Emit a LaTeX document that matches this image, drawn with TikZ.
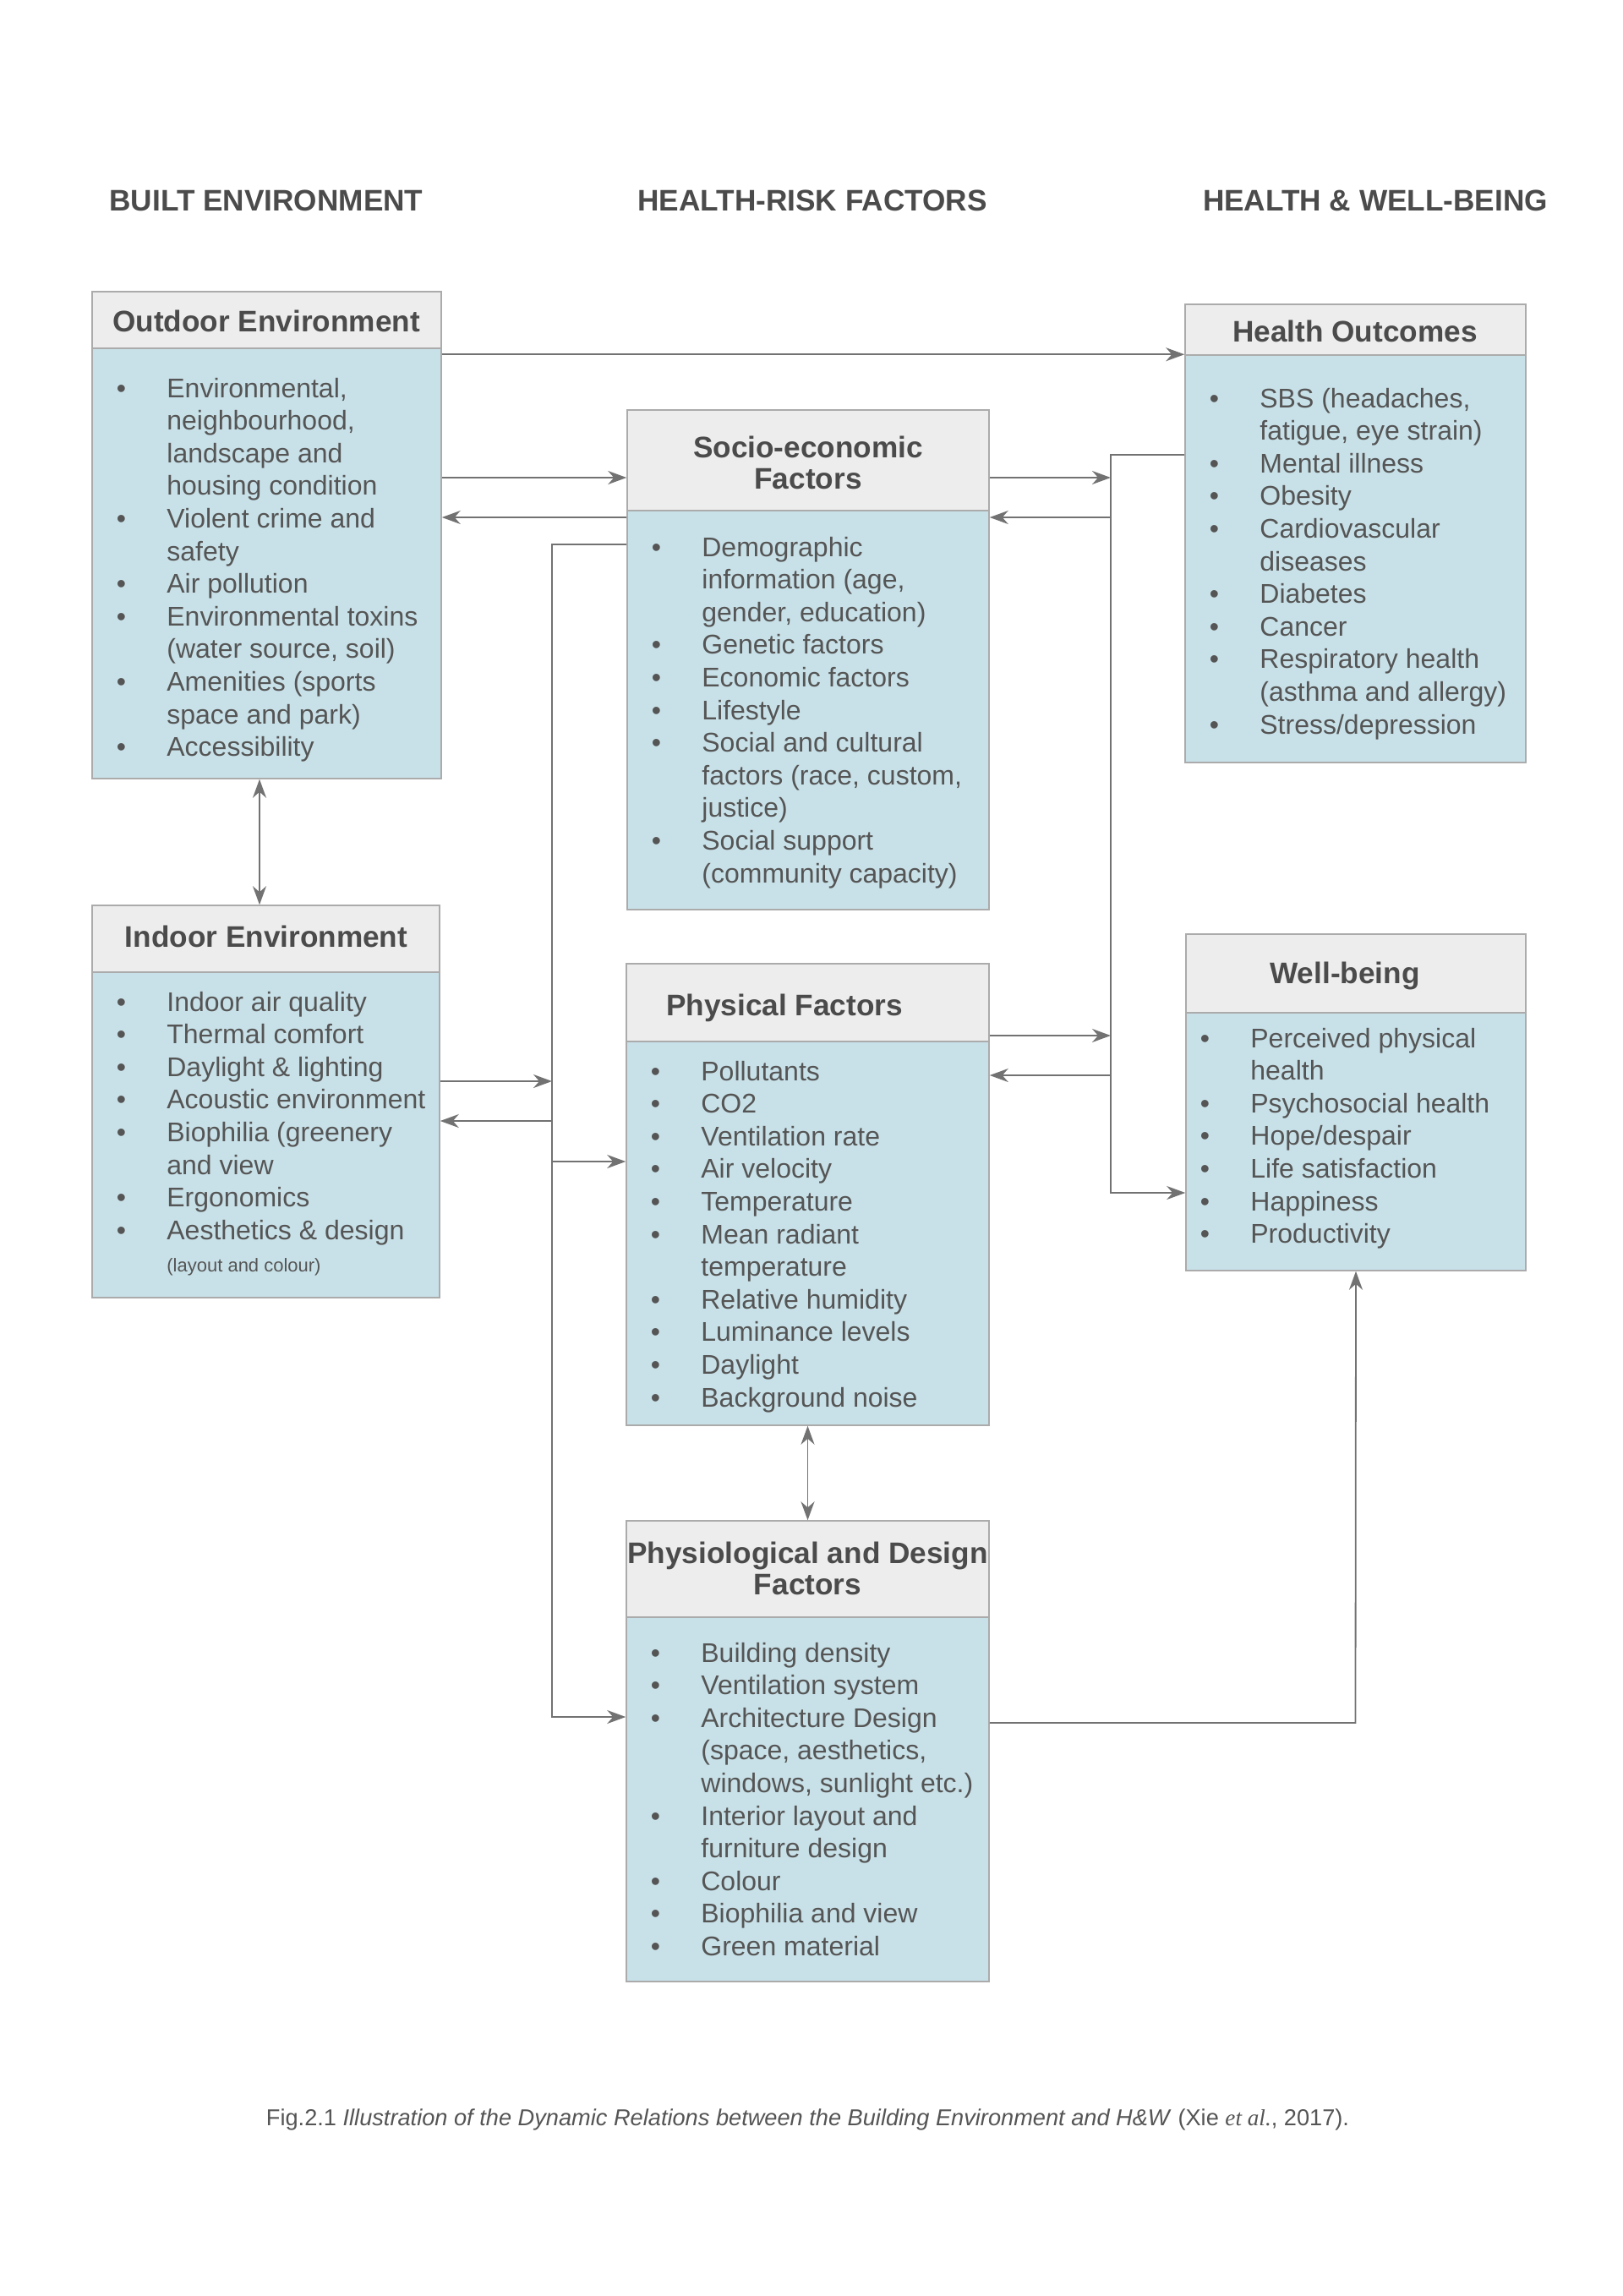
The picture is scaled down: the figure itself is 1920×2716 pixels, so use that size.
\documentclass[tikz,border=0pt]{standalone}
\usepackage{fontspec}
\setmainfont{Liberation Sans}
\newfontfamily\seriffam{Liberation Serif}
\usetikzlibrary{arrows.meta,fit}
\definecolor{hdrfill}{HTML}{EDEDED}
\definecolor{bodyfill}{HTML}{C8E1E8}
\definecolor{bordercol}{HTML}{ABABAB}
\definecolor{txtcol}{HTML}{555555}
\definecolor{ttlcol}{HTML}{4B4B4B}
\definecolor{arrowcol}{HTML}{727272}
\newcommand\titlefont{\fontsize{17.6pt}{18.7pt}\selectfont\bfseries}
\newcommand\bodyfont{\fontsize{16pt}{19.3pt}\selectfont}
\newcommand\bl{\par\noindent\llap{\textbullet\hspace{24.2pt}}}
\newcommand\blist[1]{\parbox[t]{260pt}{\bodyfont\raggedright #1}}
\newcommand\ubox[6]{%
  \node[bodyb, fit={(#2,#5)(#3,#6)}] (#1b) {};
  \node[hdr, fit={(#2,#4)(#3,#5)}] (#1h) {};
}
\begin{document}
\begin{tikzpicture}[x=0.5pt,y=-0.5pt,
  hdr/.style={draw=bordercol, fill=hdrfill, line width=0.75pt, inner sep=0pt},
  bodyb/.style={draw=bordercol, fill=bodyfill, line width=0.75pt, inner sep=0pt},
  ttl/.style={anchor=base, inner sep=0pt, text=ttlcol, font=\titlefont},
  btext/.style={anchor=base west, inner sep=0pt, text=txtcol, font=\bodyfont},
  captext/.style={anchor=base, inner sep=0pt, text=txtcol, font=\fontsize{13.6pt}{16pt}\selectfont},
  conn/.style={draw=arrowcol, line width=0.9pt},
  arr/.style={conn, -{Stealth[length=11pt,width=8pt,inset=3.5pt]}},
  dbl/.style={conn, {Stealth[length=11pt,width=8pt,inset=3.5pt]}-{Stealth[length=11pt,width=8pt,inset=3.5pt]}}]
\useasboundingbox (0,0) rectangle (1920,2716);
\fill[white] (0,0) rectangle (1920,2716);

% column headings
\node[ttl] (c1) at (315,249) {BUILT ENVIRONMENT};
\node[ttl] (c2) at (961,249) {HEALTH-RISK FACTORS};
\node[ttl] (c3) at (1627,249) {HEALTH \& WELL-BEING};

% boxes
\ubox{o}{109}{522}{345}{412}{921}
\ubox{s}{742}{1170}{485}{604}{1076}
\ubox{h}{1402}{1805}{360}{420}{902}
\ubox{i}{109}{520}{1071}{1150}{1535}
\ubox{p}{741}{1170}{1140}{1232}{1686}
\ubox{w}{1403}{1805}{1105}{1198}{1503}
\ubox{d}{741}{1170}{1799}{1913}{2344}

% titles
\node[ttl] (ot) at (315,392) {Outdoor Environment};
\node[ttl] (st) at (956,541) {\begin{tabular}[t]{@{}c@{}}Socio-economic\\Factors\end{tabular}};
\node[ttl] (ht) at (1603,404) {Health Outcomes};
\node[ttl] (it) at (315,1120) {Indoor Environment};
\node[ttl] (pt) at (928,1201) {Physical Factors};
\node[ttl] (wt) at (1591,1163) {Well-being};
\node[ttl] (dt) at (955.5,1849) {\begin{tabular}[t]{@{}c@{}}Physiological and Design\\Factors\end{tabular}};

% body texts
\node[btext] (ox) at (197,470) {\blist{\bl Environmental,\\neighbourhood,\\landscape and\\housing condition
  \bl Violent crime and\\safety
  \bl Air pollution
  \bl Environmental toxins\\(water source, soil)
  \bl Amenities (sports\\space and park)
  \bl Accessibility}};
\node[btext] (sx) at (830,658) {\blist{\bl Demographic\\information (age,\\gender, education)
  \bl Genetic factors
  \bl Economic factors
  \bl Lifestyle
  \bl Social and cultural\\factors (race, custom,\\justice)
  \bl Social support\\(community capacity)}};
\node[btext] (hx) at (1490,482) {\blist{\bl SBS (headaches,\\fatigue, eye strain)
  \bl Mental illness
  \bl Obesity
  \bl Cardiovascular\\diseases
  \bl Diabetes
  \bl Cancer
  \bl Respiratory health\\(asthma and allergy)
  \bl Stress/depression}};
\node[btext] (ix) at (197,1196) {\blist{\bl Indoor air quality
  \bl Thermal comfort
  \bl Daylight \& lighting
  \bl Acoustic environment
  \bl Biophilia (greenery\\and view
  \bl Ergonomics
  \bl Aesthetics \& design\\{\fontsize{11pt}{19.3pt}\selectfont(layout and colour)}}};
\node[btext] (px) at (829,1278) {\blist{\bl Pollutants
  \bl CO2
  \bl Ventilation rate
  \bl Air velocity
  \bl Temperature
  \bl Mean radiant\\temperature
  \bl Relative humidity
  \bl Luminance levels
  \bl Daylight
  \bl Background noise}};
\node[btext] (wx) at (1479,1239) {\blist{\bl Perceived physical\\health
  \bl Psychosocial health
  \bl Hope/despair
  \bl Life satisfaction
  \bl Happiness
  \bl Productivity}};
\node[btext] (dx) at (829,1966) {\blist{\bl Building density
  \bl Ventilation system
  \bl Architecture Design\\(space, aesthetics,\\windows, sunlight etc.)
  \bl Interior layout and\\furniture design
  \bl Colour
  \bl Biophilia and view
  \bl Green material}};

% junction coordinates
\coordinate (lv1) at (653,644);
\coordinate (lv2) at (653,2031);
\coordinate (lvi1) at (653,1279);
\coordinate (lvi2) at (653,1326);
\coordinate (lvp) at (653,1374);
\coordinate (rv1) at (1314,538);
\coordinate (rv2) at (1314,1411);
\coordinate (rs1) at (1314,565);
\coordinate (rs2) at (1314,612);
\coordinate (rp1) at (1314,1225);
\coordinate (rp2) at (1314,1272);
\coordinate (dw) at (1603.5,2038);
\coordinate (ls1) at (0,565);
\coordinate (ls2) at (0,612);
\coordinate (od) at (307,0);

% connectors
\draw[arr] (ob.east |- hb.north west) -- (hb.north west);
\draw[arr] (ob.east |- ls1) -- (sh.west |- ls1);
\draw[arr] (sb.west |- ls2) -- (ob.east |- ls2);
\draw[arr] (sb.west |- lv1) -- (lv1) -- (lv2) -- (db.west |- lv2);
\draw[arr] (lvp) -- (pb.west |- lvp);
\draw[arr] (ib.east |- lvi1) -- (lvi1);
\draw[arr] (lvi2) -- (ib.east |- lvi2);
\draw[arr] (hb.west |- rv1) -- (rv1) -- (rv2) -- (wb.west |- rv2);
\draw[arr] (sh.east |- rs1) -- (rs1);
\draw[arr] (rs2) -- (sb.east |- rs2);
\draw[arr] (ph.east |- rp1) -- (rp1);
\draw[arr] (rp2) -- (pb.east |- rp2);
\draw[arr] (db.east |- dw) -- (dw) -- (wb.south);
\draw[dbl] (ob.south -| od) -- (ih.north -| od);
\draw[dbl] (pb.south) -- (dh.north);

% caption
\node[captext] (caption) at (955.5,2514) {Fig.2.1 \textit{Illustration of the Dynamic Relations between the Building Environment and H\&W} (Xie {\seriffam\itshape et al.}, 2017).};
\end{tikzpicture}
\end{document}
